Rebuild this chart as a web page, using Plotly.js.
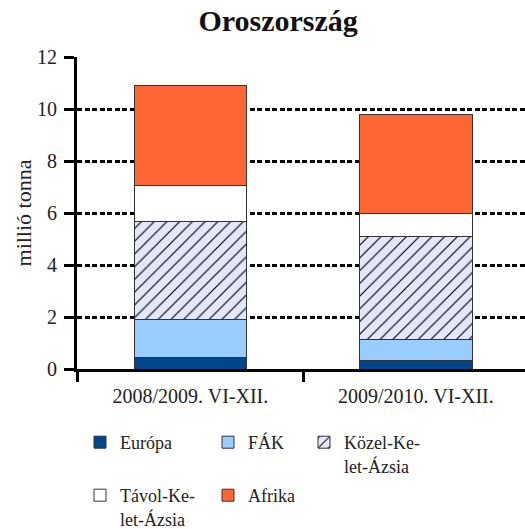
<!DOCTYPE html>
<html>
<head>
<meta charset="utf-8">
<script src="https://cdn.plot.ly/plotly-3.0.1.min.js"></script>
<style>html,body{margin:0;padding:0;background:#fff;}#chart{width:525px;height:529px;}</style>
</head>
<body>
<div id="chart"></div>
<script>
const categories = ["2008/2009. VI-XII.", "2009/2010. VI-XII."];
const seriesNames = ["Európa", "FÁK", "Közel-Ke-<br>let-Ázsia", "Távol-Ke-<br>let-Ázsia", "Afrika"];
const europa = [0.45, 0.32];
const fak = [1.46, 0.83];
const kozelKelet = [3.76, 3.95];
const tavolKelet = [1.38, 0.90];
const afrika = [3.85, 3.80];
const yTicks = [0, 2, 4, 6, 8, 10, 12];

const FONT = "Liberation Serif";
const outline = {color: "#333333", width: 1};

const values = [europa, fak, kozelKelet, tavolKelet, afrika];
const colors = ["#00468B", "#99CCFF", "#E6E6FA", "#FFFFFF", "#FF6633"];
const legendIds = ["legend", "legend2", "legend3", "legend4", "legend5"];

const traces = values.map((v, i) => {
  const t = {
    type: "bar",
    name: seriesNames[i],
    x: categories,
    y: v,
    legend: legendIds[i],
    marker: {color: colors[i], line: outline},
    hoverinfo: "y+name"
  };
  if (i === 2) {
    t.marker.pattern = {shape: "/", size: 9, solidity: 0.13, fgcolor: "#000000", bgcolor: "#E6E6FA", fillmode: "replace"};
  }
  return t;
});

function leg(px, py) {
  return {
    x: (px - 77) / 448, y: (369 - py) / 312,
    xanchor: "left", yanchor: "top",
    bgcolor: "rgba(0,0,0,0)", borderwidth: 0,
    font: {family: FONT, size: 18, color: "#222"},
    valign: "top", itemclick: false, itemdoubleclick: false
  };
}

const layout = {
  width: 525, height: 529,
  margin: {l: 77, r: 0, t: 57, b: 160, autoexpand: false},
  paper_bgcolor: "#fff", plot_bgcolor: "#fff",
  barmode: "stack",
  bargap: 0.5,
  title: {text: "<b>Oroszország</b>", font: {family: FONT, size: 30, color: "#111"},
          xref: "paper", x: 0.449, xanchor: "center", yref: "container", y: 0.962, yanchor: "middle"},
  font: {family: FONT, color: "#222"},
  xaxis: {
    type: "category",
    range: [-0.503, 1.484],
    showline: true, linecolor: "#000", linewidth: 3,
    ticks: "outside", tickson: "boundaries", ticklen: 10, tickwidth: 3, tickcolor: "#000",
    tickfont: {family: FONT, size: 20, color: "#222"},
    ticklabelstandoff: 7,
    showgrid: false, zeroline: false, fixedrange: true
  },
  yaxis: {
    range: [0, 12],
    tickvals: yTicks,
    showline: true, linecolor: "#000", linewidth: 3,
    ticks: "outside", ticklen: 10, tickwidth: 3, tickcolor: "#000",
    tickfont: {family: FONT, size: 20, color: "#222"},
    ticklabelstandoff: 3,
    showgrid: true, gridcolor: "#000", gridwidth: 3, griddash: "5px,2.5px",
    zeroline: false,
    title: {text: "millió tonna", font: {family: FONT, size: 22, color: "#222"}, standoff: 0},
    fixedrange: true
  },
  legend: leg(80, 424),
  legend2: leg(208, 424),
  legend3: leg(304, 424),
  legend4: leg(80, 477),
  legend5: leg(208, 477),
  showlegend: true
};

Plotly.newPlot("chart", traces, layout, {displayModeBar: false, staticPlot: true});
</script>
</body>
</html>
